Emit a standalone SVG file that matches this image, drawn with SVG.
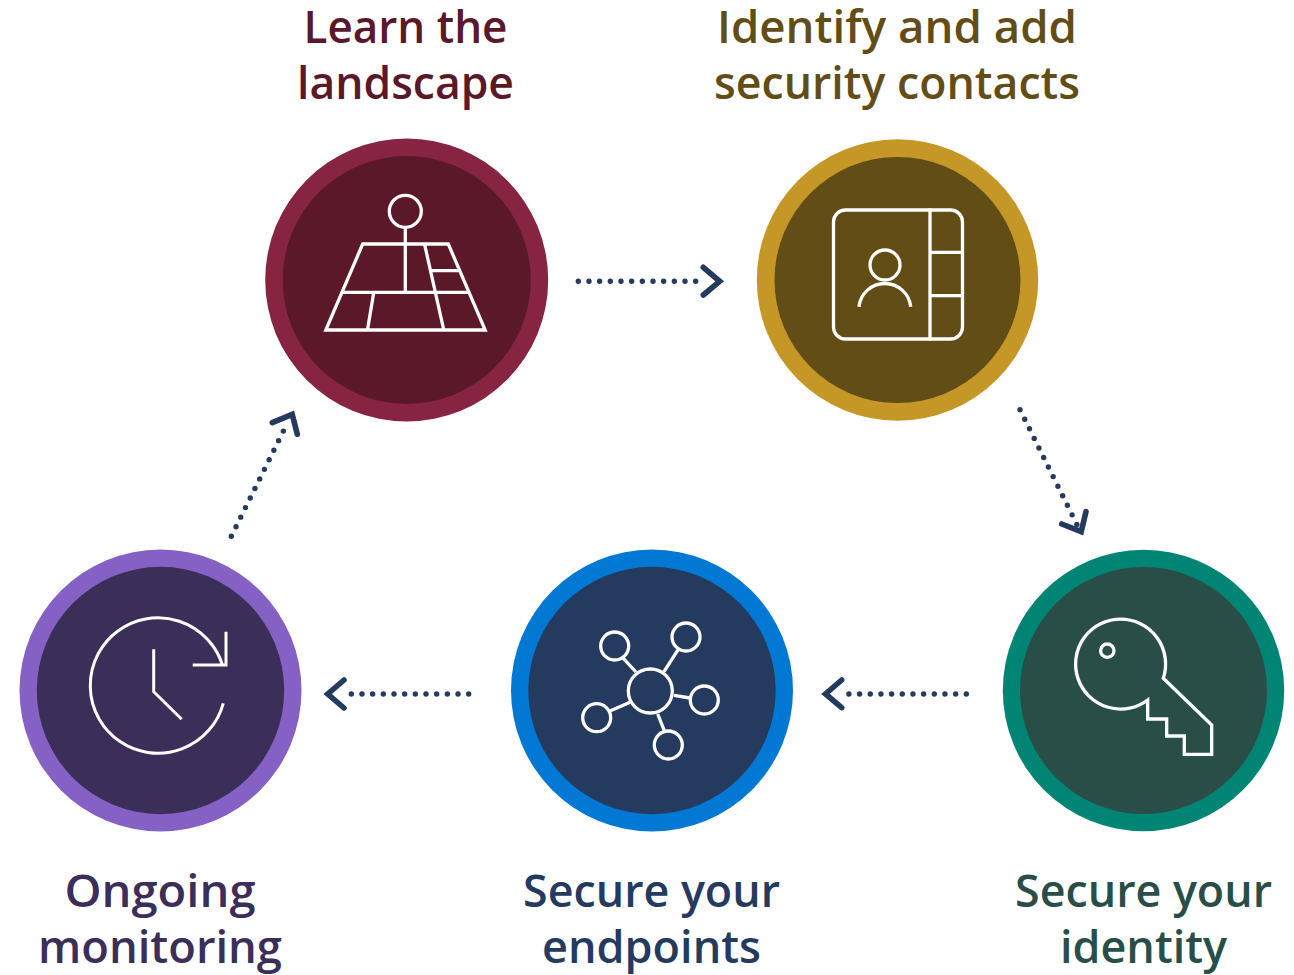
<svg xmlns="http://www.w3.org/2000/svg" width="1294" height="975" viewBox="0 0 1294 975">
<style>
text{font-family:"Open Sans","Noto Sans","Liberation Sans",sans-serif;font-weight:600;font-size:45.5px}
.i{fill:none;stroke:#fff;stroke-width:3.3;stroke-linejoin:miter}
.d{fill:none;stroke:#243A5E;stroke-width:5.4;stroke-linecap:round;stroke-dasharray:0 10.67}
.c{fill:none;stroke:#243A5E;stroke-width:5.6;stroke-linecap:round;stroke-linejoin:miter}
</style>
<rect width="1294" height="975" fill="#fff"/>
<g id="connectors">
<path class="d" d="M578.3 281.3H706.3"/><path class="c" d="M703.3 267.3L719.700 281.3L703.3 295"/>
<path class="d" d="M1020 409.7L1077 524.7"/><path class="c" d="M1086 511.7L1081.2 531.7L1061.7 524"/>
<path class="d" d="M966.3 694H838.3"/><path class="c" d="M841.7 680L825.500 694L841.7 707.7"/>
<path class="d" d="M468.7 694H340.7"/><path class="c" d="M344 680L327.7 694L344 708"/>
<path class="d" d="M231.3 536.3L288 421.7"/><path class="c" d="M272.3 422.7L292.2 414.3L297.3 434.3"/>
</g>
<g id="node-landscape">
<circle cx="406.700" cy="280" r="141.500" fill="#862442"/><circle cx="406.700" cy="280" r="124" fill="#5A1828"/>
<g class="i"><circle cx="405.300" cy="211.300" r="16"/><path d="M405.300 227.500V292.300M362.700 244H448.300L485.200 330H325.800ZM342.300 292.300H468.300M424.300 243L444 331M430.700 270.700H458.300M374 291L367.300 331"/></g>
<text x="405.500" y="43" text-anchor="middle" fill="#5A1828" textLength="204" lengthAdjust="spacingAndGlyphs">Learn the</text>
<text x="405.500" y="98.500" text-anchor="middle" fill="#5A1828" textLength="217" lengthAdjust="spacingAndGlyphs">landscape</text>
</g>
<g id="node-contacts">
<circle cx="897.500" cy="280" r="140.700" fill="#C49727"/><circle cx="897.500" cy="280" r="123" fill="#634D17"/>
<g class="i"><rect x="833.500" y="210" width="129" height="129" rx="12"/><path d="M930 208.500V340.500M930 252.300H963M930 295.700H963M859 306.700A26 26 0 0 1 910.700 306.700"/><circle cx="885" cy="265" r="15"/></g>
<text x="897" y="43" text-anchor="middle" fill="#634D17" textLength="360" lengthAdjust="spacingAndGlyphs">Identify and add</text>
<text x="897" y="98.500" text-anchor="middle" fill="#634D17" textLength="366" lengthAdjust="spacingAndGlyphs">security contacts</text>
</g>
<g id="node-identity">
<circle cx="1143.500" cy="690.500" r="140.700" fill="#008575"/><circle cx="1143.500" cy="690.500" r="123.500" fill="#294E48"/>
<g class="i"><circle cx="1107.300" cy="650.700" r="6.700"/><path d="M1163.300 678.300L1211.700 725V754.300H1184.300V736H1166.700V719H1147.700V700A45 45 0 1 1 1163.300 678.300Z"/></g>
<text x="1143.500" y="907" text-anchor="middle" fill="#294E48" textLength="257" lengthAdjust="spacingAndGlyphs">Secure your</text>
<text x="1143.500" y="963" text-anchor="middle" fill="#294E48" textLength="167" lengthAdjust="spacingAndGlyphs">identity</text>
</g>
<g id="node-endpoints">
<circle cx="652" cy="690.500" r="141" fill="#0078D4"/><circle cx="652" cy="690.500" r="123.700" fill="#243A5E"/>
<g class="i"><circle cx="650.300" cy="691" r="22"/><circle cx="614.700" cy="646" r="14"/><circle cx="686" cy="637" r="14"/><circle cx="704.300" cy="700" r="14"/><circle cx="596.700" cy="717.700" r="14"/><circle cx="668.300" cy="745" r="14"/><path d="M623.300 658.300L636 672M678.300 649.300L664 671.700M674 695.300L690 698M610 711L630 702.300M657.700 714L664.300 730.700"/></g>
<text x="651.500" y="907" text-anchor="middle" fill="#243A5E" textLength="257" lengthAdjust="spacingAndGlyphs">Secure your</text>
<text x="651.500" y="963" text-anchor="middle" fill="#243A5E" textLength="219" lengthAdjust="spacingAndGlyphs">endpoints</text>
</g>
<g id="node-monitoring">
<circle cx="160.500" cy="690.500" r="141" fill="#8661C5"/><circle cx="160.500" cy="690.500" r="123.700" fill="#3B2E58"/>
<g class="i" style="stroke-width:3"><path d="M223.300 703.300A67.700 67.700 0 1 1 222.700 665.700M192.700 665H226V631.700M153.700 649.300V691.700L181.700 719.300"/></g>
<text x="160" y="907" text-anchor="middle" fill="#3B2E58" textLength="191" lengthAdjust="spacingAndGlyphs">Ongoing</text>
<text x="160" y="963" text-anchor="middle" fill="#3B2E58" textLength="244" lengthAdjust="spacingAndGlyphs">monitoring</text>
</g>
</svg>
